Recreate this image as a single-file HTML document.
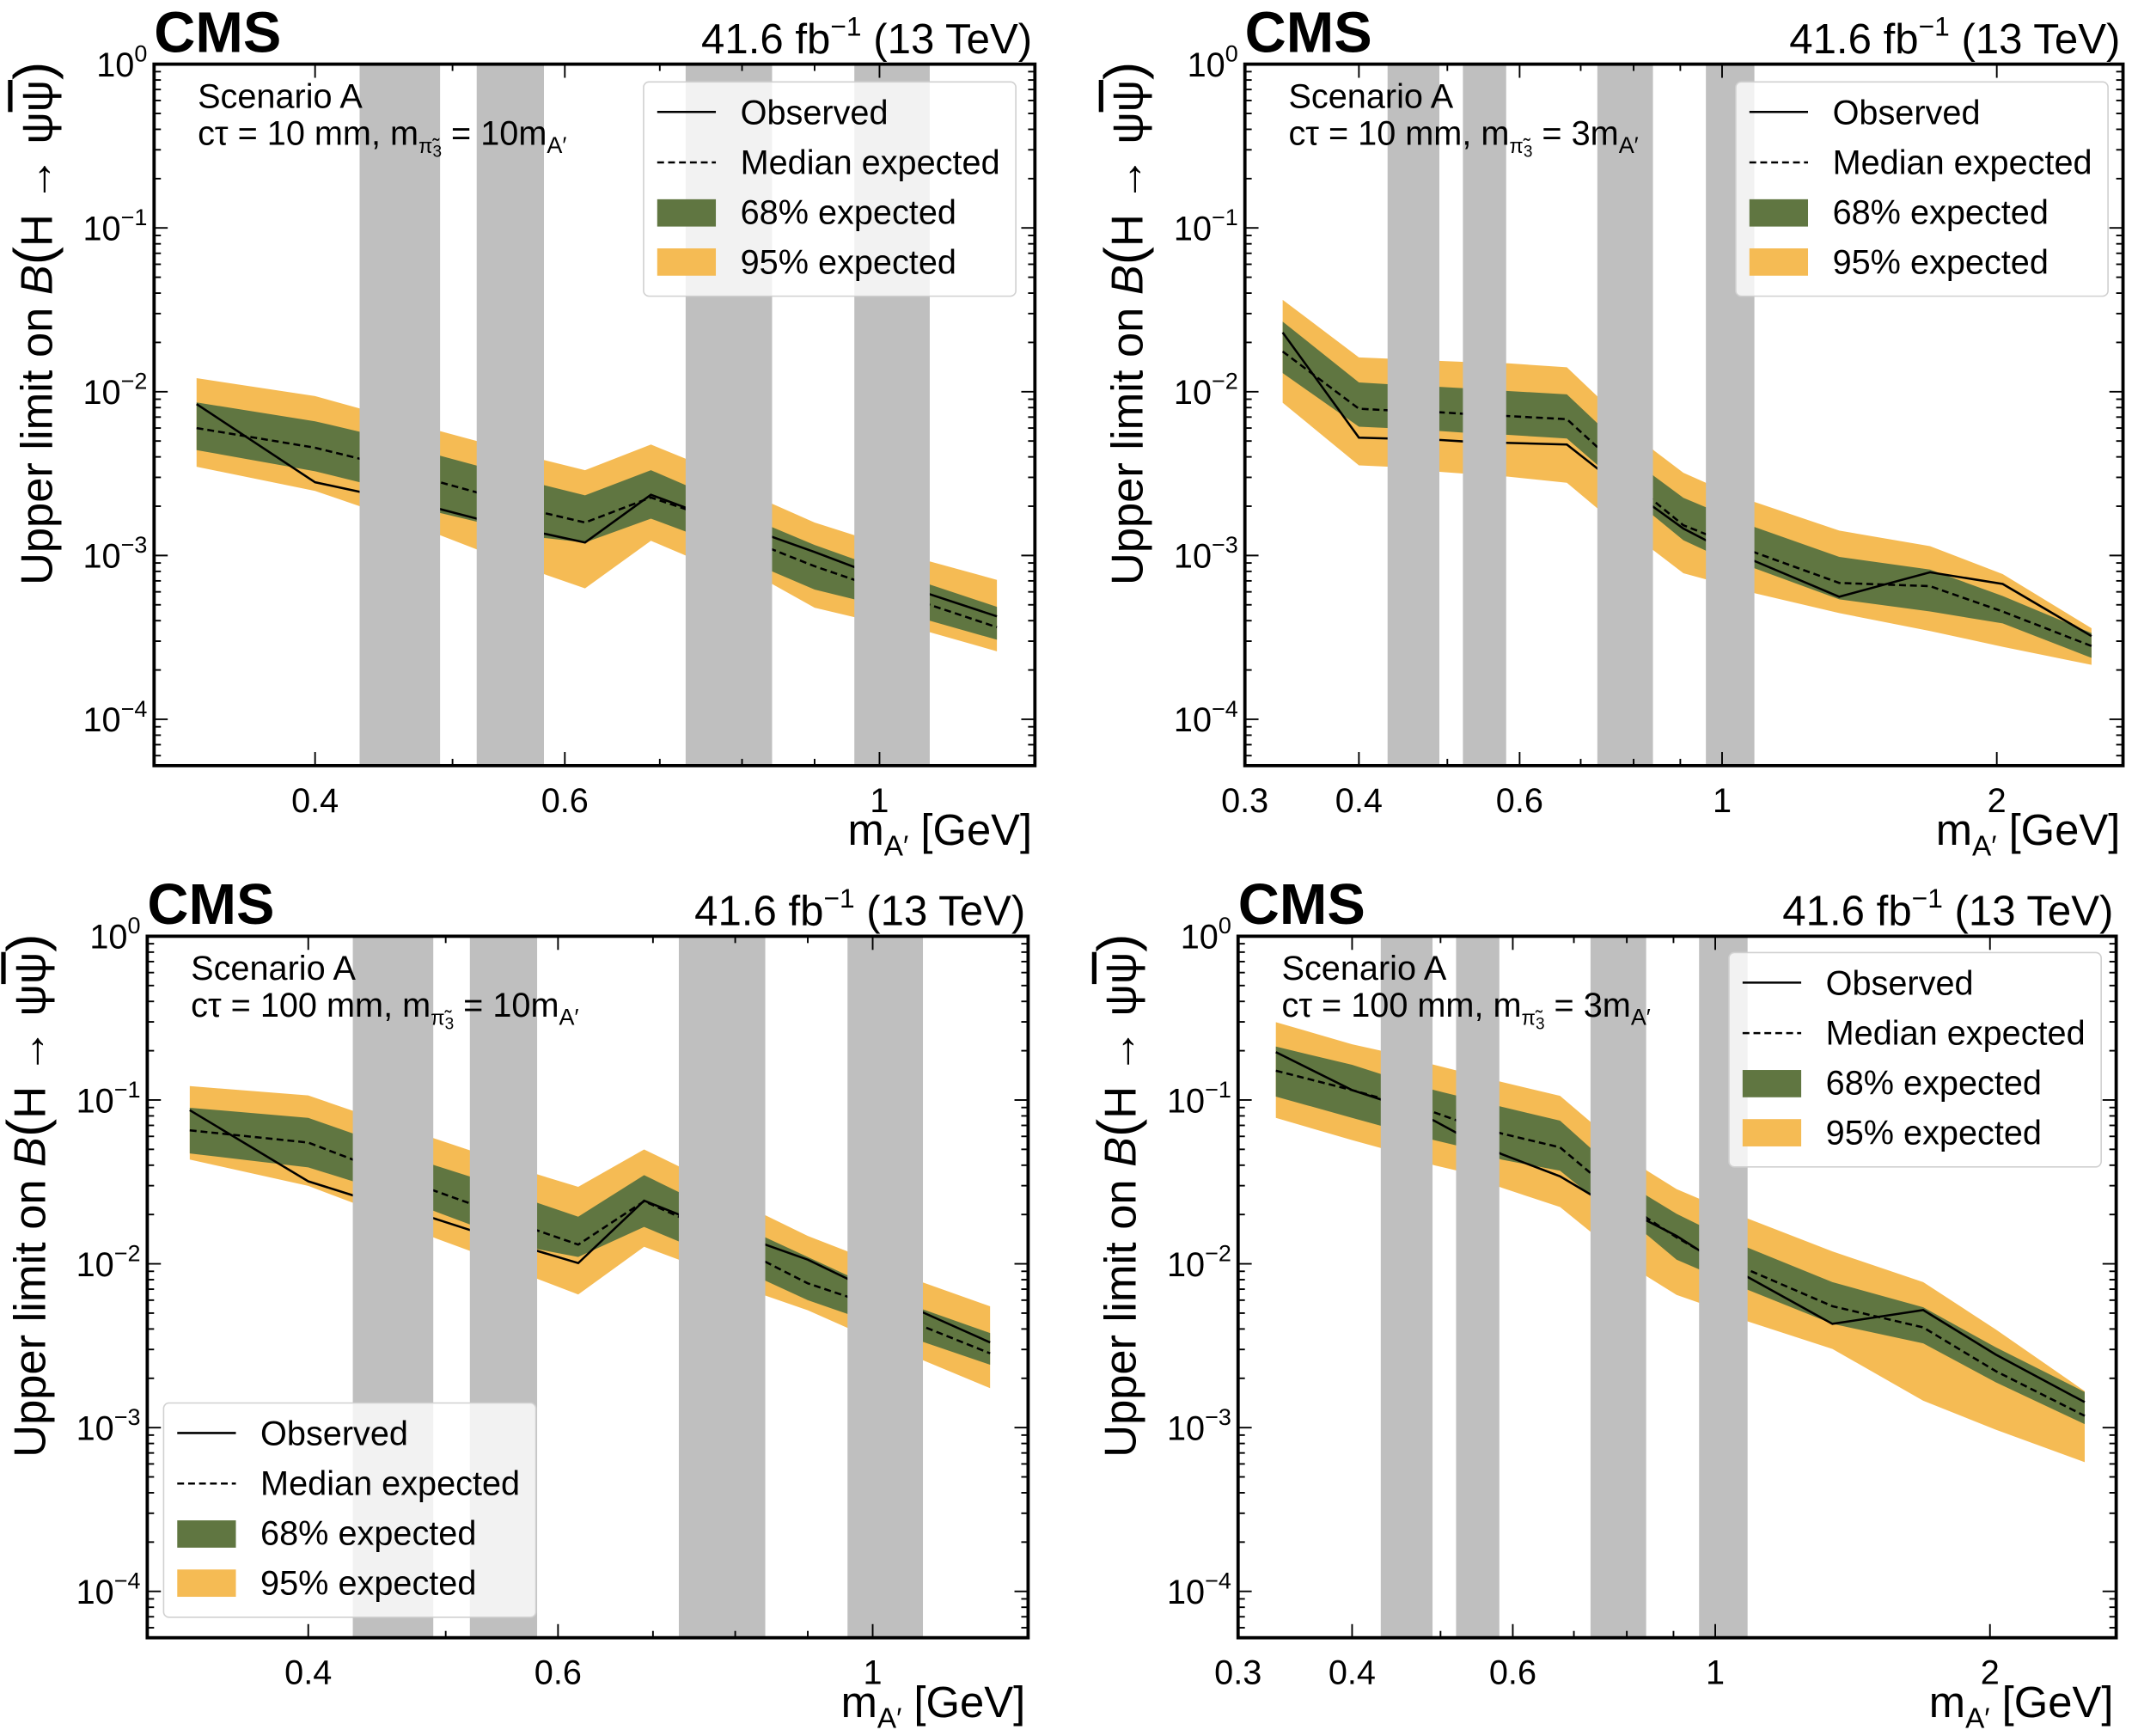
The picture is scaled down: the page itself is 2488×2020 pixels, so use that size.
<!DOCTYPE html>
<html><head><meta charset="utf-8"><style>
html,body{margin:0;padding:0;background:#fff;}
svg{display:block;font-family:"Liberation Sans",sans-serif;}
</style></head><body>
<svg id="fig" width="2488" height="2020" viewBox="0 0 1568 1272" preserveAspectRatio="none" xmlns="http://www.w3.org/2000/svg"></svg>
<script>
// ---------- data ----------
const bandLo = [0.43, 0.52, 0.73, 0.96];
const bandHi = [0.49, 0.58, 0.84, 1.085];

const p1X    = [0.33,0.40,0.43,0.49,0.52,0.58,0.62,0.69,0.73,0.84,0.90,0.96,1.085,1.21];
const p1Obs  = [8.4e-3,2.8e-3,2.45e-3,1.92e-3,1.68e-3,1.36e-3,1.2e-3,2.35e-3,1.96e-3,1.3e-3,1.05e-3,8.5e-4,5.8e-4,4.25e-4];
const p1Med  = [6.0e-3,4.55e-3,3.9e-3,2.8e-3,2.43e-3,1.82e-3,1.59e-3,2.26e-3,1.92e-3,1.09e-3,8.6e-4,7.1e-4,5.0e-4,3.65e-4];
const p1Up68 = [8.6e-3,6.6e-3,5.7e-3,4.07e-3,3.54e-3,2.69e-3,2.33e-3,3.32e-3,2.69e-3,1.49e-3,1.16e-3,9.5e-4,6.65e-4,4.86e-4];
const p1Lo68 = [4.4e-3,3.27e-3,2.8e-3,1.82e-3,1.61e-3,1.28e-3,1.2e-3,1.68e-3,1.4e-3,8.0e-4,6.2e-4,5.4e-4,4.0e-4,3.06e-4];
const p1Up95 = [1.21e-2,9.4e-3,7.9e-3,5.75e-3,5.0e-3,3.83e-3,3.32e-3,4.76e-3,3.9e-3,2.07e-3,1.59e-3,1.33e-3,9.2e-4,7.1e-4];
const p1Lo95 = [3.48e-3,2.48e-3,2.0e-3,1.33e-3,1.09e-3,7.7e-4,6.3e-4,1.23e-3,1.0e-3,6.7e-4,4.8e-4,4.2e-4,3.4e-4,2.6e-4];

const p2X    = [0.33,0.40,0.432,0.492,0.522,0.583,0.676,0.731,0.842,0.907,0.96,1.083,1.344,1.69,2.03,2.54];
const p2Obs  = [0.023,0.00524,0.00518,0.00507,0.00497,0.00487,0.00476,0.00338,0.00197,0.00146,0.00124,0.00093,0.00056,0.00079,0.00067,0.000322];
const p2Med  = [0.0176,0.00787,0.0077,0.00748,0.00733,0.0071,0.0068,0.00456,0.00215,0.00153,0.00135,0.00105,0.00068,0.00065,0.000455,0.00028];
const p2Up68 = [0.0268,0.0114,0.0111,0.0107,0.0105,0.0101,0.00964,0.00638,0.00306,0.00225,0.00197,0.0015,0.00098,0.00082,0.000566,0.000336];
const p2Lo68 = [0.013,0.00612,0.006,0.00575,0.00562,0.00545,0.00518,0.00355,0.00174,0.00124,0.00107,0.00084,0.00054,0.000455,0.000385,0.000237];
const p2Up95 = [0.0364,0.0162,0.0159,0.0154,0.0152,0.0149,0.0141,0.0093,0.00438,0.0032,0.00278,0.00213,0.00142,0.00114,0.00077,0.00036];
const p2Lo95 = [0.00857,0.00355,0.00348,0.00324,0.00316,0.00303,0.00278,0.00193,0.00107,0.00078,0.000715,0.00059,0.000445,0.000346,0.000277,0.000215];

const p3X    = [0.33,0.40,0.43,0.49,0.52,0.58,0.62,0.69,0.73,0.84,0.90,0.96,1.085,1.21];
const p3Obs  = [0.0867,0.0319,0.0262,0.019,0.0161,0.012,0.0101,0.0243,0.02,0.0131,0.0106,0.0081,0.00505,0.00331];
const p3Med  = [0.0653,0.055,0.0433,0.0281,0.0234,0.016,0.0131,0.0241,0.0194,0.0103,0.0076,0.0063,0.00415,0.00284];
const p3Up68 = [0.0897,0.0778,0.0625,0.0402,0.0341,0.0236,0.0194,0.0348,0.0274,0.0145,0.011,0.0085,0.00527,0.00378];
const p3Lo68 = [0.0472,0.0388,0.0319,0.0211,0.0174,0.0123,0.011,0.0168,0.0137,0.0079,0.006,0.00494,0.00334,0.00242];
const p3Up95 = [0.1216,0.1067,0.0859,0.0586,0.0493,0.0352,0.0295,0.0499,0.0394,0.0198,0.0148,0.0119,0.0077,0.0055];
const p3Lo95 = [0.0433,0.0299,0.0236,0.0145,0.012,0.0081,0.0065,0.0127,0.0106,0.0064,0.0052,0.00406,0.00258,0.00174];

const p4X    = [0.33,0.40,0.432,0.492,0.522,0.583,0.676,0.731,0.842,0.907,0.96,1.083,1.344,1.69,2.03,2.54];
const p4Obs  = [0.196,0.115,0.1,0.0748,0.0625,0.0468,0.0342,0.0264,0.0183,0.0148,0.0121,0.00836,0.0043,0.00522,0.00279,0.00143];
const p4Med  = [0.151,0.115,0.102,0.0841,0.0748,0.0625,0.0514,0.0356,0.019,0.0145,0.0121,0.00925,0.00551,0.00409,0.00221,0.00118];
const p4Up68 = [0.212,0.164,0.143,0.115,0.106,0.091,0.0748,0.0506,0.026,0.0202,0.0173,0.0126,0.00773,0.00543,0.00309,0.00165];
const p4Lo68 = [0.105,0.0778,0.0692,0.0569,0.0526,0.0433,0.037,0.026,0.015,0.0106,0.00925,0.00698,0.0043,0.00327,0.00189,0.00105];
const p4Up95 = [0.299,0.219,0.199,0.164,0.151,0.129,0.106,0.0731,0.037,0.0286,0.025,0.019,0.0119,0.00773,0.00397,0.00167];
const p4Lo95 = [0.0778,0.0569,0.0506,0.04,0.037,0.0292,0.0222,0.0156,0.00836,0.00646,0.00578,0.00447,0.00302,0.00146,0.00097,0.000615];

const yTickExp = [0,-1,-2,-3,-4];
const xTicksA = [0.4,0.6,1];
const xTickLabelsA = ["0.4","0.6","1"];
const xMinorA = [0.3,0.5,0.7,0.8,0.9];
const xTicksB = [0.3,0.4,0.6,1,2];
const xTickLabelsB = ["0.3","0.4","0.6","1","2"];
const xMinorB = [0.5,0.7,0.8,0.9,3];

// ---------- drawing ----------
const NS = "http://www.w3.org/2000/svg";
const svg = document.getElementById("fig");
function mk(tag, attrs, parent){ const e=document.createElementNS(NS,tag); for(const k in attrs) e.setAttribute(k,attrs[k]); (parent||svg).appendChild(e); return e; }
const defs = mk("defs",{});

const panels = [
 {id:"p1",L:113,R:759,T:47,B:561,xmin:0.308,xmax:1.287,X:p1X,obs:p1Obs,med:p1Med,u68:p1Up68,l68:p1Lo68,u95:p1Up95,l95:p1Lo95,ticks:xTicksA,labels:xTickLabelsA,minor:xMinorA,leg:[359,13],ct:"10",mp:"10"},
 {id:"p2",L:913,R:1557,T:47,B:561,xmin:0.3,xmax:2.75,X:p2X,obs:p2Obs,med:p2Med,u68:p2Up68,l68:p2Lo68,u95:p2Up95,l95:p2Lo95,ticks:xTicksB,labels:xTickLabelsB,minor:xMinorB,leg:[360,13],ct:"10",mp:"3"},
 {id:"p3",L:108,R:754,T:686,B:1200,xmin:0.308,xmax:1.287,X:p3X,obs:p3Obs,med:p3Med,u68:p3Up68,l68:p3Lo68,u95:p3Up95,l95:p3Lo95,ticks:xTicksA,labels:xTickLabelsA,minor:xMinorA,leg:[12,342],ct:"100",mp:"10"},
 {id:"p4",L:908,R:1552,T:686,B:1200,xmin:0.3,xmax:2.75,X:p4X,obs:p4Obs,med:p4Med,u68:p4Up68,l68:p4Lo68,u95:p4Up95,l95:p4Lo95,ticks:xTicksB,labels:xTickLabelsB,minor:xMinorB,leg:[360,12],ct:"100",mp:"3"}
];
const YDEC = 4.283;

panels.forEach(P=>{
  const g = mk("g",{});
  
  
  const lx0=Math.log10(P.xmin), lx1=Math.log10(P.xmax);
  const xs = v => P.L + (Math.log10(v)-lx0)/(lx1-lx0)*(P.R-P.L);
  const ys = v => P.T + (-Math.log10(v))/YDEC*(P.B-P.T);
  const cp = mk("clipPath",{id:"clip-"+P.id},defs);
  mk("rect",{x:P.L,y:P.T,width:P.R-P.L,height:P.B-P.T},cp);
  const pg = mk("g",{"clip-path":"url(#clip-"+P.id+")"},g);
  function band(up,lo,color,name){
    let pts=P.X.map((x,i)=>xs(x).toFixed(2)+","+ys(up[i]).toFixed(2));
    for(let i=P.X.length-1;i>=0;i--) pts.push(xs(P.X[i]).toFixed(2)+","+ys(lo[i]).toFixed(2));
    const e=mk("polygon",{points:pts.join(" "),fill:color},pg);
    
    
  }
  band(P.u95,P.l95,"#f5bb54","band-95-expected");
  band(P.u68,P.l68,"#607641","band-68-expected");
  function line(vals,dash,name){
    const pts=P.X.map((x,i)=>xs(x).toFixed(2)+","+ys(vals[i]).toFixed(2)).join(" ");
    const a={points:pts,fill:"none",stroke:"#000","stroke-width":1.6};
    if(dash) a["stroke-dasharray"]="5,3";
    const e=mk("polyline",a,pg);
    
    
  }
  line(P.med,true,"median-expected-line");
  line(P.obs,false,"observed-line");
  for(let i=0;i<bandLo.length;i++){
    const e=mk("rect",{x:xs(bandLo[i]),y:P.T,width:xs(bandHi[i])-xs(bandLo[i]),height:P.B-P.T,fill:"#bfbfbf"},pg);
    
    
  }
  // ticks
  const tk = mk("g",{stroke:"#000","stroke-width":1.2},g);
  yTickExp.forEach(ex=>{
    const y=ys(Math.pow(10,ex));
    mk("line",{x1:P.L,x2:P.L+10,y1:y,y2:y},tk); mk("line",{x1:P.R,x2:P.R-10,y1:y,y2:y},tk);
    const t=mk("text",{x:P.L-5,y:y+9,"font-size":25,"text-anchor":"end",fill:"#000"},g);
    
    
    t.textContent="10";
    const s=mk("tspan",{"font-size":17,dy:-11},t); s.textContent=(ex===0?"0":"\u2212"+(-ex));
  });
  for(let ex=0;ex>-5;ex--){
    for(let m=2;m<=9;m++){
      const v=m*Math.pow(10,ex-1);
      if(Math.log10(v)< -YDEC) continue;
      const y=ys(v);
      mk("line",{x1:P.L,x2:P.L+5,y1:y,y2:y},tk); mk("line",{x1:P.R,x2:P.R-5,y1:y,y2:y},tk);
    }
  }
  P.ticks.forEach((v,i)=>{
    const x=xs(v);
    mk("line",{x1:x,x2:x,y1:P.B,y2:P.B-10},tk); mk("line",{x1:x,x2:x,y1:P.T,y2:P.T+10},tk);
    const t=mk("text",{x:x,y:P.B+34,"font-size":25,"text-anchor":"middle",fill:"#000"},g);
    
    
    t.textContent=P.labels[i];
  });
  P.minor.forEach(v=>{
    if(v<=P.xmin||v>=P.xmax) return;
    const x=xs(v);
    mk("line",{x1:x,x2:x,y1:P.B,y2:P.B-5},tk); mk("line",{x1:x,x2:x,y1:P.T,y2:P.T+5},tk);
  });
  const fr=mk("rect",{x:P.L,y:P.T,width:P.R-P.L,height:P.B-P.T,fill:"none",stroke:"#000","stroke-width":2.4},g);
  
  
  // header
  const cms=mk("text",{x:P.L,y:P.T-9,"font-size":42,"font-weight":"bold",fill:"#000"},g);
  
  
  cms.textContent="CMS";
  const lum=mk("text",{x:P.R-2,y:P.T-8,"font-size":31,"text-anchor":"end",fill:"#000"},g);
  
  
  lum.textContent="41.6 fb";
  let s=mk("tspan",{"font-size":20,dy:-13},lum); s.textContent="\u22121";
  s=mk("tspan",{dy:13},lum); s.textContent=" (13 TeV)";
  // scenario
  const sc=mk("text",{x:P.L+32,y:P.T+32,"font-size":25,fill:"#000"},g);
  
  
  sc.textContent="Scenario A";
  const sc2=mk("text",{x:P.L+32,y:P.T+59,"font-size":25,fill:"#000"},g);
  
  
  sc2.textContent="c\u03C4 = "+P.ct+" mm, m";
  s=mk("tspan",{"font-size":15,dy:6},sc2); s.textContent="\u03C0\u0303";
  s=mk("tspan",{"font-size":12,dy:3},sc2); s.textContent="3";
  s=mk("tspan",{"font-size":25,dy:-9},sc2); s.textContent=" = "+P.mp+"m";
  s=mk("tspan",{"font-size":17,dy:6},sc2); s.textContent="A\u2032";
  // axis titles
  const cx=P.L-75, cy=P.T+190;
  const yt=mk("text",{x:cx,y:cy,"font-size":33,"text-anchor":"middle",fill:"#000",transform:"rotate(-90 "+cx+" "+cy+")"},g);
  
  
  yt.textContent="Upper limit on ";
  s=mk("tspan",{"font-style":"italic"},yt); s.textContent="B";
  s=mk("tspan",{"font-size":40},yt); s.textContent="(";
  s=mk("tspan",{},yt); s.textContent="H \u2192 \u03C8";
  s=mk("tspan",{"text-decoration":"overline"},yt); s.textContent="\u03C8";
  s=mk("tspan",{"font-size":40},yt); s.textContent=")";
  const xt=mk("text",{x:P.R-2,y:P.B+58,"font-size":32,"text-anchor":"end",fill:"#000"},g);
  
  
  xt.textContent="m";
  s=mk("tspan",{"font-size":21,dy:8},xt); s.textContent="A\u2032";
  s=mk("tspan",{dy:-8},xt); s.textContent=" [GeV]";
  // legend
  const bx=P.L+P.leg[0], by=P.T+P.leg[1];
  const lg=mk("g",{},g);
  
  
  mk("rect",{x:bx,y:by,width:273,height:157,rx:4,fill:"rgba(255,255,255,0.8)",stroke:"#d0d0d0","stroke-width":1},lg);
  mk("line",{x1:bx+10,x2:bx+53,y1:by+22,y2:by+22,stroke:"#000","stroke-width":1.6},lg);
  mk("line",{x1:bx+10,x2:bx+53,y1:by+59,y2:by+59,stroke:"#000","stroke-width":1.6,"stroke-dasharray":"5,3"},lg);
  mk("rect",{x:bx+10,y:by+86,width:43,height:20,fill:"#607641"},lg);
  mk("rect",{x:bx+10,y:by+122,width:43,height:20,fill:"#f5bb54"},lg);
  const names=["Observed","Median expected","68% expected","95% expected"];
  names.forEach((n,i)=>{
    const t=mk("text",{x:bx+71,y:by+31+i*36.5,"font-size":25,fill:"#000"},lg);
    
    
    t.textContent=n;
  });
});
</script>
</body></html>
